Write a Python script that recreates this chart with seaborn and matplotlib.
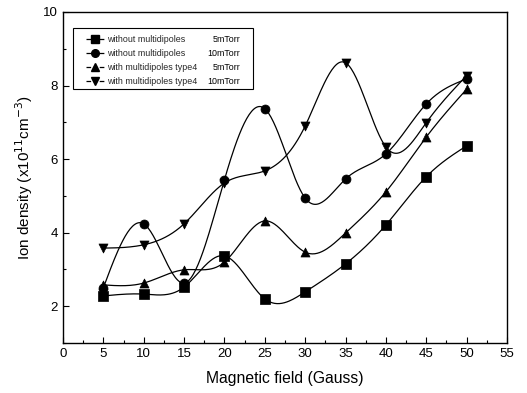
import numpy as np
import matplotlib
matplotlib.use("Agg")
import matplotlib.pyplot as plt
import seaborn as sns
from matplotlib.patches import Rectangle
from matplotlib.ticker import MultipleLocator

sns.set_theme(style="ticks")
plt.rcParams["font.family"] = ["Liberation Sans", "DejaVu Sans"]

field = [5, 10, 15, 20, 25, 30, 35, 40, 45, 50]
wo_5 = [2.28, 2.33, 2.52, 3.37, 2.20, 2.39, 3.15, 4.21, 5.52, 6.36]
wo_10 = [2.50, 4.24, 2.63, 5.44, 7.37, 4.94, 5.46, 6.14, 7.50, 8.18]
w4_5 = [2.58, 2.63, 2.99, 3.20, 4.32, 3.47, 3.99, 5.11, 6.60, 7.90]
w4_10 = [3.58, 3.67, 4.24, 5.35, 5.68, 6.90, 8.62, 6.33, 6.99, 8.27]

names = ["without multidipoles", "without multidipoles",
         "with multidipoles type4", "with multidipoles type4"]
pressures = ["5mTorr", "10mTorr", "5mTorr", "10mTorr"]
markers = ["s", "o", "^", "v"]
series = [wo_5, wo_10, w4_5, w4_10]


def natural_spline(x, y, n=300):
    """Natural cubic spline through the measured points."""
    x = np.asarray(x, float)
    y = np.asarray(y, float)
    k = len(x)
    h = np.diff(x)
    A = np.zeros((k, k))
    b = np.zeros(k)
    A[0, 0] = A[-1, -1] = 1.0
    for i in range(1, k - 1):
        A[i, i - 1] = h[i - 1]
        A[i, i] = 2 * (h[i - 1] + h[i])
        A[i, i + 1] = h[i]
        b[i] = 6 * ((y[i + 1] - y[i]) / h[i] - (y[i] - y[i - 1]) / h[i - 1])
    m = np.linalg.solve(A, b)
    xs = np.linspace(x[0], x[-1], n)
    idx = np.clip(np.searchsorted(x, xs) - 1, 0, k - 2)
    x0, x1 = x[idx], x[idx + 1]
    hh = x1 - x0
    t0, t1 = x1 - xs, xs - x0
    ys = (m[idx] * t0**3 / (6 * hh) + m[idx + 1] * t1**3 / (6 * hh)
          + (y[idx] / hh - m[idx] * hh / 6) * t0
          + (y[idx + 1] / hh - m[idx + 1] * hh / 6) * t1)
    return xs, ys


fig = plt.figure(figsize=(5.27, 3.93), dpi=100)
ax = fig.add_axes([0.1195, 0.1272, 0.8425, 0.8423])

handles = []
for vals, mk in zip(series, markers):
    xs, ys = natural_spline(field, vals)
    sns.lineplot(x=xs, y=ys, ax=ax, color="black", linewidth=0.9)
    sns.scatterplot(x=field, y=vals, ax=ax, marker=mk, color="black",
                    s=42, edgecolor="black", linewidth=0.5, zorder=3)
    h, = ax.plot([], [], color="black", marker=mk, markersize=5.5,
                 linestyle="--", linewidth=0.9)
    handles.append(h)

ax.set_xlim(0, 55)
ax.set_ylim(1, 10)
ax.xaxis.set_major_locator(MultipleLocator(5))
ax.xaxis.set_minor_locator(MultipleLocator(2.5))
ax.yaxis.set_major_locator(MultipleLocator(2))
ax.yaxis.set_minor_locator(MultipleLocator(1))
ax.tick_params(axis="both", which="both", direction="in", labelsize=9.5,
               colors="black", top=False, right=False)
ax.tick_params(which="major", length=4, width=0.8)
ax.tick_params(which="minor", length=2, width=0.8)
for sp in ax.spines.values():
    sp.set_color("black")
    sp.set_linewidth(1.0)

ax.set_xlabel("Magnetic field (Gauss)", fontsize=11.3, color="black",
              labelpad=8)
ax.set_ylabel("Ion density (x10$^{11}$cm$^{-3}$)", fontsize=11,
              color="black", labelpad=6)

# legend box drawn as its own frame so the pressure column fits inside it
ax.add_patch(Rectangle((0.0225, 0.767), 0.4055, 0.185, transform=ax.transAxes,
                       facecolor="white", edgecolor="black", linewidth=0.8,
                       zorder=4))
leg = ax.legend(handles, names, loc="upper left",
                bbox_to_anchor=(0.038, 0.95), fontsize=6.4, frameon=False,
                handlelength=2.0, handletextpad=0.4, borderpad=0.7,
                labelspacing=0.58, borderaxespad=0.0)
leg.set_zorder(5)
fig.canvas.draw()
for txt, pr in zip(leg.get_texts(), pressures):
    tb = txt.get_window_extent().transformed(ax.transAxes.inverted())
    ax.text(0.399, (tb.y0 + tb.y1) / 2, pr, transform=ax.transAxes,
            ha="right", va="center", fontsize=6.4, color="black", zorder=10)

fig.savefig("out.png", dpi=100)
